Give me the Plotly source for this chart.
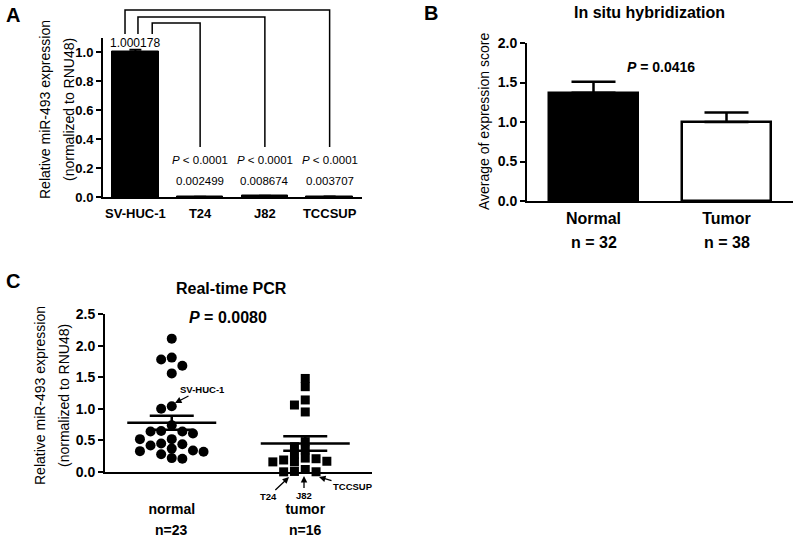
import plotly.graph_objects as go

FONT = "Liberation Sans, Arial, Helvetica, sans-serif"
W, H = 800, 541

# ---------------- data ----------------
# Panel A
cell_lines = ["SV-HUC-1", "T24", "J82", "TCCSUP"]
cell_expr = [1.000178, 0.002499, 0.008674, 0.003707]
cell_sem = [0.015, 0.0, 0.0, 0.0]
cell_p = ["", "< 0.0001", "< 0.0001", "< 0.0001"]

# Panel B
ish_groups = ["Normal", "Tumor"]
ish_n = [32, 38]
ish_mean = [1.37, 1.00]
ish_sem = [0.14, 0.12]
ish_p = "0.0416"

# Panel C
pcr_groups = ["normal", "tumor"]
pcr_n = [23, 16]
pcr_normal = [2.11, 1.81, 1.78, 1.68, 1.56, 1.04, 1.00, 0.74, 0.64, 0.61, 0.64,
              0.65, 0.52, 0.52, 0.45, 0.42, 0.37, 0.44, 0.33, 0.28, 0.32, 0.34,
              0.21, 0.22]
pcr_tumor = [1.48, 1.35, 1.14, 1.06, 0.95, 0.48, 0.40, 0.35, 0.28, 0.22, 0.17,
             0.16, 0.16, 0.19, 0.21, 0.0025, 0.0087, 0.0037, 0.04]
pcr_mean = [0.78, 0.45]
pcr_sem = [0.11, 0.115]
pcr_p = "0.0080"
pcr_marks = ["SV-HUC-1", "T24", "J82", "TCCSUP"]
ytitle_lines = ["Relative miR-493 expression", "(normalized to RNU48)"]

# ---------------- layout geometry (pixels) ----------------
PANEL = {
    "A": dict(x=(103, 362), y=(197, 37.5), xr=(-0.5, 3.5), yr=(0, 1.1)),
    "B": dict(x=(527, 793), y=(201, 43), xr=(-0.5, 1.5), yr=(0, 2.0)),
    "C": dict(x=(105, 372), y=(472, 314), xr=(-0.5, 1.5), yr=(0, 2.5)),
}


def xpix(px):
    return px / W


def ypix(py):
    return 1 - py / H


def xdom(p):
    a, b = PANEL[p]["x"]
    return [xpix(a), xpix(b)]


def ydom(p):
    a, b = PANEL[p]["y"]
    return [ypix(a), ypix(b)]


def xpaper(p, v):
    (a, b), (r0, r1) = PANEL[p]["x"], PANEL[p]["xr"]
    return xpix(a + (v - r0) / (r1 - r0) * (b - a))


def px_per_unit(p):
    (a, b), (r0, r1) = PANEL[p]["x"], PANEL[p]["xr"]
    (c, d), (s0, s1) = PANEL[p]["y"], PANEL[p]["yr"]
    return (b - a) / (r1 - r0), (c - d) / (s1 - s0)


def swarm(vals, center, step_px, vgap_px, panel):
    kx, ky = px_per_unit(panel)
    placed = []
    xs = [0.0] * len(vals)
    order = sorted(range(len(vals)), key=lambda i: -vals[i])
    seq = [0]
    for k in range(1, 8):
        seq += [-k, k]
    for i in order:
        y = vals[i] * ky
        x = 0
        for k in seq:
            x = k * step_px
            if all(not (abs(x - qx) < step_px * 0.9 and abs(y - qy) < vgap_px)
                   for qx, qy in placed):
                break
        placed.append((x, y))
        xs[i] = center + x / kx
    return xs


fig = go.Figure()

# ---------------- Panel A ----------------
fig.add_trace(go.Bar(
    x=list(range(len(cell_lines))), y=cell_expr, width=0.72,
    marker=dict(color="black", line=dict(color="black", width=1)),
    error_y=dict(type="data", array=cell_sem, arrayminus=[0] * 4,
                 symmetric=False, color="black", thickness=2, width=6),
    xaxis="x", yaxis="y", showlegend=False, hoverinfo="x+y"))

# ---------------- Panel B ----------------
fig.add_trace(go.Bar(
    x=list(range(len(ish_groups))), y=ish_mean, width=0.67,
    marker=dict(color=["black", "white"], line=dict(color="black", width=2.5)),
    error_y=dict(type="data", array=ish_sem, arrayminus=[0, 0], symmetric=False,
                 color="black", thickness=2.5, width=22),
    xaxis="x2", yaxis="y2", showlegend=False))

# ---------------- Panel C ----------------
xn = swarm(pcr_normal, 0, 10.6, 8.5, "C")
xt = swarm(pcr_tumor, 1, 10.8, 7.5, "C")
fig.add_trace(go.Scatter(
    x=xn, y=pcr_normal, mode="markers",
    marker=dict(symbol="circle", size=10, color="black"),
    xaxis="x3", yaxis="y3", showlegend=False, cliponaxis=False))
fig.add_trace(go.Scatter(
    x=xt, y=pcr_tumor, mode="markers",
    marker=dict(symbol="square", size=9, color="black"),
    xaxis="x3", yaxis="y3", showlegend=False, cliponaxis=False))
fig.add_trace(go.Scatter(
    x=[0, 1], y=pcr_mean, mode="markers",
    marker=dict(symbol="line-ew-open", size=89 / 1.4, color="black",
                line=dict(color="black", width=2.5)),
    error_y=dict(type="data", array=pcr_sem, color="black", thickness=2.5, width=22),
    xaxis="x3", yaxis="y3", showlegend=False, cliponaxis=False))

# ---------------- axes ----------------
def yaxis_common(p, dtick, size):
    return dict(domain=ydom(p), range=list(PANEL[p]["yr"]), dtick=dtick, tick0=0,
                tickformat=".1f", showline=True, linecolor="black", linewidth=2,
                ticks="outside", ticklen=5, tickwidth=2, tickcolor="black",
                showgrid=False, zeroline=False, automargin=False,
                tickfont=dict(family=FONT, size=size, color="black", weight="bold"))


def xaxis_common(p, labels, size, standoff):
    return dict(domain=xdom(p), range=list(PANEL[p]["xr"]),
                tickvals=list(range(len(labels))), ticktext=labels,
                showline=True, linecolor="black", linewidth=2, ticks="",
                showgrid=False, zeroline=False, ticklabelstandoff=standoff,
                automargin=False,
                tickfont=dict(family=FONT, size=size, color="black", weight="bold"))


fig.update_layout(
    template="none",
    width=W, height=H, margin=dict(l=0, r=0, t=0, b=0, pad=0, autoexpand=False),
    paper_bgcolor="white", plot_bgcolor="white", bargap=0,
    font=dict(family=FONT, color="black"),
    xaxis=dict(**xaxis_common("A", cell_lines, 13, 3), anchor="y"),
    yaxis=dict(**yaxis_common("A", 0.2, 13), anchor="x"),
    xaxis2=dict(**xaxis_common("B", ish_groups, 16, 2), anchor="y2"),
    yaxis2=dict(**yaxis_common("B", 0.5, 14), anchor="x2"),
    xaxis3=dict(**xaxis_common("C", pcr_groups, 14, 23), anchor="y3"),
    yaxis3=dict(**yaxis_common("C", 0.5, 14), anchor="x3"),
)

ann = []
shapes = []


def txt(text, x, y, size, xref="paper", yref="paper", **kw):
    d = dict(text=text, x=x, y=y, xref=xref, yref=yref, showarrow=False,
             xanchor="center", yanchor="middle", font=dict(size=size))
    d.update(kw)
    ann.append(d)


# panel letters
for letter, (lx, ly) in {"A": (13, 15), "B": (431, 13), "C": (13, 281)}.items():
    txt(f"<b>{letter}</b>", xpix(lx), ypix(ly), 20)

# ---- Panel A texts ----
for line, lx in zip(ytitle_lines, (45, 69)):
    txt(line, xpix(lx), ypix(110), 14, textangle=-90)
txt(f"{cell_expr[0]:.6f}", 0, ypix(43), 12, xref="x")
for i in range(1, len(cell_lines)):
    txt(f"<i>P</i> {cell_p[i]}", i, ypix(160), 11.5, xref="x")
    txt(f"{cell_expr[i]:.6f}", i, ypix(181), 11.5, xref="x")

# comparison brackets
left_off = [0.26, 0.04, -0.16]
top_px = [23, 17, 10]
for j, i in enumerate(range(1, len(cell_lines))):
    xl = xpaper("A", 0 + left_off[j])
    xr = xpaper("A", i)
    yt = ypix(top_px[j])
    shapes.append(dict(type="path", xref="paper", yref="paper",
                       path=f"M{xl},{ypix(34)} L{xl},{yt} L{xr},{yt} L{xr},{ypix(147)}",
                       line=dict(color="black", width=1.5)))

# ---- Panel B texts ----
txt("<b>In situ hybridization</b>", xpix(649), ypix(13), 16)
txt("Average of expression score", xpix(484), ypix(122), 14, textangle=-90)
txt(f"<b><i>P</i> = {ish_p}</b>", xpix(661), ypix(67), 14)
for i, n in enumerate(ish_n):
    txt(f"<b>n = {n}</b>", i, ypix(242), 16, xref="x2")

# ---- Panel C texts ----
txt("<b>Real-time PCR</b>", xpix(231), ypix(288), 16)
txt(f"<b><i>P</i> = {pcr_p}</b>", xpix(228), ypix(317), 16)
for line, lx in zip(ytitle_lines, (40, 64)):
    txt(line, xpix(lx), ypix(396), 14, textangle=-90)
for i, n in enumerate(pcr_n):
    txt(f"<b>n={n}</b>", i, ypix(530), 14, xref="x3")

# arrows marking cell lines: (label, head px x, head px y, text dx, text dy)
arrow_specs = [
    (pcr_marks[0], 175, 403, 27, -14),
    (pcr_marks[1], 289, 477, -21, 20),
    (pcr_marks[2], 304, 476, 0, 19),
    (pcr_marks[3], 319, 477, 34, 10),
]
for lab, hx, hy, axo, ayo in arrow_specs:
    ann.append(dict(text=f"<b>{lab}</b>", x=xpix(hx), y=ypix(hy), xref="paper",
                    yref="paper", ax=axo, ay=ayo, showarrow=True, arrowhead=2,
                    arrowsize=1, arrowwidth=1.3, arrowcolor="black", standoff=0,
                    xanchor="center", yanchor="middle", font=dict(size=9.5)))

fig.update_layout(annotations=ann, shapes=shapes)
fig.write_html("out.html",
               config={"displayModeBar": False},
               post_script="document.body.style.margin='0px';"
                           "document.body.style.padding='0px';")
